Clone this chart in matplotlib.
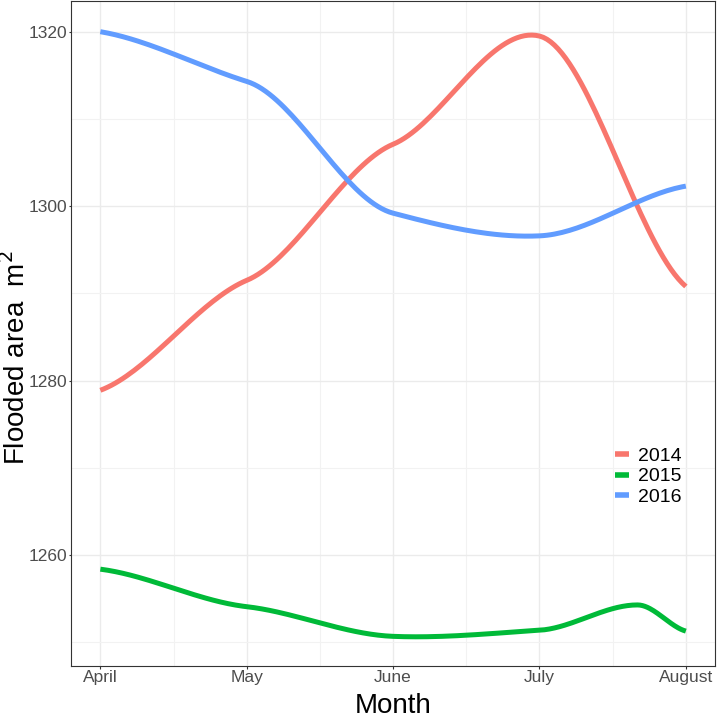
import numpy as np
import matplotlib.pyplot as plt

plt.rcParams["font.family"] = ["Liberation Sans", "DejaVu Sans"]

months = ["April", "May", "June", "July", "August"]

# month index (0 = April) and flooded area for each year
x_2014 = [0, 1, 2, 3, 4]
y_2014 = [1278.9, 1291.5, 1307.1, 1319.5, 1290.8]
x_2015 = [0, 1, 2, 3, 3.67, 4]
y_2015 = [1258.4, 1254.1, 1250.7, 1251.4, 1254.3, 1251.3]
x_2016 = [0, 1, 2, 3, 4]
y_2016 = [1320.0, 1314.3, 1299.2, 1296.6, 1302.3]

years = ["2014", "2015", "2016"]
colors = ["#F8766D", "#00BA38", "#619CFF"]


def smooth(xs, ys, c=0.5, n=40):
    # hermite spline with damped tangents, looks like an x-spline
    xs = np.asarray(xs, float)
    ys = np.asarray(ys, float)
    k = len(xs)
    m = np.zeros(k)
    for i in range(k):
        if i == 0:
            m[i] = c * (ys[1] - ys[0]) / (xs[1] - xs[0])
        elif i == k - 1:
            m[i] = c * (ys[-1] - ys[-2]) / (xs[-1] - xs[-2])
        else:
            m[i] = c * (ys[i + 1] - ys[i - 1]) / (xs[i + 1] - xs[i - 1])
    px, py = [], []
    for i in range(k - 1):
        h = xs[i + 1] - xs[i]
        t = np.linspace(0, 1, n)
        h00 = 2 * t**3 - 3 * t**2 + 1
        h10 = t**3 - 2 * t**2 + t
        h01 = -2 * t**3 + 3 * t**2
        h11 = t**3 - t**2
        px.append(xs[i] + t * h)
        py.append(h00 * ys[i] + h10 * h * m[i] + h01 * ys[i + 1] + h11 * h * m[i + 1])
    return np.concatenate(px), np.concatenate(py)


fig = plt.figure(figsize=(7.18, 7.18), dpi=100)
ax = fig.add_axes([0.099, 0.0724, 0.897, 0.926])

for xs, ys, yr, col in zip([x_2014, x_2015, x_2016], [y_2014, y_2015, y_2016], years, colors):
    sx, sy = smooth(xs, ys)
    ax.plot(sx, sy, color=col, linewidth=3.6, solid_capstyle="butt", label=yr, zorder=3)

ax.set_xlim(-0.2, 4.2)
ax.set_ylim(1247.3, 1323.5)
ax.set_xticks(range(len(months)))
ax.set_xticklabels(months)
ax.set_yticks([1260, 1280, 1300, 1320])
ax.set_xticks([0.5, 1.5, 2.5, 3.5], minor=True)
ax.set_yticks([1250, 1270, 1290, 1310], minor=True)

ax.grid(True, which="major", color="#EBEBEB", linewidth=1.0)
ax.grid(True, which="minor", color="#F2F2F2", linewidth=0.8)
ax.set_axisbelow(True)
ax.tick_params(axis="both", which="major", length=1.8, width=0.8, color="#333333",
               labelsize=12.5, labelcolor="#4D4D4D")
ax.tick_params(axis="y", which="major", pad=0.6)
ax.tick_params(axis="x", which="major", pad=1.2)
ax.tick_params(axis="both", which="minor", length=0)
for s in ax.spines.values():
    s.set_color("#333333")
    s.set_linewidth(0.8)

fig.text(393 / 718, 1 - 706 / 718, "Month", fontsize=20, ha="center", va="center")
fig.text(16 / 718, 1 - 358 / 718, "Flooded area  m$^2$", fontsize=20,
         ha="center", va="center", rotation=90)

leg = ax.legend(loc="center left", bbox_to_anchor=(0.818, 0.285), frameon=False,
                fontsize=14, handlelength=0.7, handletextpad=0.45, labelspacing=0.15)
for line in leg.get_lines():
    line.set_linewidth(4)

plt.savefig("out.png", dpi=100)
